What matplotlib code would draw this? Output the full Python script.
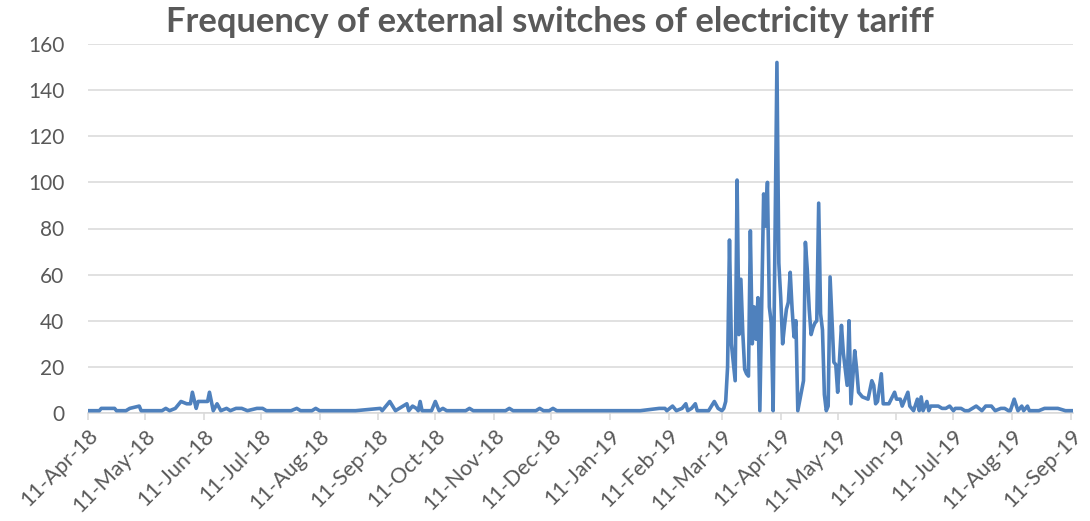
import matplotlib
matplotlib.use("Agg")
import matplotlib.pyplot as plt
import matplotlib.dates as mdates
import pandas as pd

# ---- data ----
dates_2018 = ["2018-04-11", "2018-04-17", "2018-04-18", "2018-04-25", "2018-04-26",
              "2018-05-01", "2018-05-03", "2018-05-08", "2018-05-09", "2018-05-20",
              "2018-05-22", "2018-05-24", "2018-05-27", "2018-05-30", "2018-06-02",
              "2018-06-04", "2018-06-05", "2018-06-07", "2018-06-08", "2018-06-13",
              "2018-06-14", "2018-06-16", "2018-06-18", "2018-06-20", "2018-06-23",
              "2018-06-25", "2018-06-28", "2018-07-01", "2018-07-04", "2018-07-09",
              "2018-07-12", "2018-07-14", "2018-07-27", "2018-07-30", "2018-08-01",
              "2018-08-07", "2018-08-09", "2018-08-11", "2018-08-30", "2018-09-12",
              "2018-09-13", "2018-09-17", "2018-09-20", "2018-09-24", "2018-09-26",
              "2018-09-27", "2018-09-29", "2018-10-01", "2018-10-02", "2018-10-03",
              "2018-10-04", "2018-10-09", "2018-10-11", "2018-10-13", "2018-10-15",
              "2018-10-17", "2018-10-27", "2018-10-29", "2018-10-31", "2018-11-17",
              "2018-11-19", "2018-11-21", "2018-12-03", "2018-12-05", "2018-12-07",
              "2018-12-10", "2018-12-12", "2018-12-14"]
counts_2018 = [1, 1, 2, 2, 1,
               1, 2, 3, 1, 1,
               2, 1, 2, 5, 4,
               4, 9, 2, 5, 5,
               9, 1, 4, 1, 2,
               1, 2, 2, 1, 2,
               2, 1, 1, 2, 1,
               1, 2, 1, 1, 2,
               1, 5, 1, 3, 4,
               1, 3, 2, 1, 5,
               1, 1, 5, 1, 2,
               1, 1, 2, 1, 1,
               2, 1, 1, 2, 1,
               1, 2, 1]

dates_early_2019 = ["2019-01-27", "2019-02-06", "2019-02-09", "2019-02-10", "2019-02-13",
                    "2019-02-15", "2019-02-18", "2019-02-20", "2019-02-21", "2019-02-23",
                    "2019-02-25", "2019-02-26", "2019-03-04", "2019-03-07", "2019-03-09",
                    "2019-03-11", "2019-03-12", "2019-03-13", "2019-03-14"]
counts_early_2019 = [1, 2, 2, 1, 3,
                     1, 2, 4, 1, 2,
                     4, 1, 1, 5, 2,
                     1, 2, 5, 20]

dates_peak_2019 = ["2019-03-15", "2019-03-16", "2019-03-17", "2019-03-18", "2019-03-19",
                   "2019-03-20", "2019-03-21", "2019-03-22", "2019-03-23", "2019-03-24",
                   "2019-03-25", "2019-03-26", "2019-03-27", "2019-03-28", "2019-03-29",
                   "2019-03-30", "2019-03-31", "2019-04-02", "2019-04-03", "2019-04-04",
                   "2019-04-05", "2019-04-06", "2019-04-07", "2019-04-09", "2019-04-10",
                   "2019-04-11", "2019-04-12", "2019-04-13", "2019-04-14", "2019-04-15",
                   "2019-04-16", "2019-04-17", "2019-04-18", "2019-04-19", "2019-04-20",
                   "2019-04-23", "2019-04-24", "2019-04-25", "2019-04-26", "2019-04-27",
                   "2019-04-28", "2019-04-29", "2019-04-30", "2019-05-01", "2019-05-02",
                   "2019-05-03", "2019-05-04", "2019-05-05", "2019-05-06", "2019-05-07",
                   "2019-05-09", "2019-05-10", "2019-05-11", "2019-05-13", "2019-05-14",
                   "2019-05-16", "2019-05-17", "2019-05-18", "2019-05-20", "2019-05-21",
                   "2019-05-22", "2019-05-24", "2019-05-27", "2019-05-29", "2019-05-30",
                   "2019-05-31", "2019-06-01", "2019-06-03", "2019-06-04", "2019-06-07",
                   "2019-06-10", "2019-06-11"]
counts_peak_2019 = [75, 30, 22, 14, 101,
                    34, 58, 35, 19, 17,
                    16, 79, 30, 46, 32,
                    50, 1, 95, 81, 100,
                    46, 39, 1, 152, 65,
                    50, 30, 38, 45, 48,
                    61, 45, 33, 40, 1,
                    14, 74, 62, 45, 34,
                    37, 39, 40, 91, 43,
                    36, 8, 1, 3, 59,
                    22, 21, 9, 38, 26,
                    12, 40, 4, 27, 19,
                    9, 7, 6, 14, 12,
                    4, 5, 17, 4, 4,
                    9, 6]

dates_late_2019 = ["2019-06-13", "2019-06-14", "2019-06-17", "2019-06-18", "2019-06-20",
                   "2019-06-22", "2019-06-23", "2019-06-24", "2019-06-25", "2019-06-27",
                   "2019-06-28", "2019-06-29", "2019-07-03", "2019-07-05", "2019-07-07",
                   "2019-07-09", "2019-07-11", "2019-07-12", "2019-07-15", "2019-07-17",
                   "2019-07-19", "2019-07-23", "2019-07-26", "2019-07-28", "2019-07-31",
                   "2019-08-02", "2019-08-05", "2019-08-07", "2019-08-09", "2019-08-10",
                   "2019-08-12", "2019-08-14", "2019-08-16", "2019-08-17", "2019-08-19",
                   "2019-08-20", "2019-08-23", "2019-08-25", "2019-08-28", "2019-09-04",
                   "2019-09-08", "2019-09-12"]
counts_late_2019 = [6, 3, 9, 3, 1,
                    6, 1, 7, 1, 5,
                    1, 3, 3, 2, 2,
                    3, 1, 2, 2, 1,
                    1, 3, 1, 3, 3,
                    1, 2, 2, 1, 1,
                    6, 1, 3, 1, 3,
                    1, 1, 1, 2, 2,
                    1, 1]

tick_dates = pd.date_range("2018-04-01", "2019-09-01", freq="MS") + pd.Timedelta(days=10)

dates = pd.to_datetime(dates_2018 + dates_early_2019 + dates_peak_2019 + dates_late_2019)
counts = counts_2018 + counts_early_2019 + counts_peak_2019 + counts_late_2019

title = "Frequency of external switches of electricity tariff"

# ---- drawing ----
plt.rcParams['font.family'] = ['Lato', 'DejaVu Sans']
txt = '#595959'
grid = '#d9d9d9'

fig = plt.figure(figsize=(10.9, 5.21), dpi=100)
ax = fig.add_axes([88/1090, (521-413)/521, (1073-88)/1090, (413-44)/521])

ax.plot(dates, counts, color='#4f81bd', lw=2.6, solid_joinstyle='round', solid_capstyle='round', zorder=3)

ax.set_ylim(0, 160)
ax.set_yticks(range(0, 161, 20))
ax.set_xlim(dates[0], dates[-1])
ax.set_xticks(tick_dates)
ax.xaxis.set_major_formatter(mdates.DateFormatter('%d-%b-%y'))

ax.grid(axis='y', color=grid, lw=1.1, zorder=0)
for s in ['top', 'right', 'left']:
    ax.spines[s].set_visible(False)
ax.spines['bottom'].set_color(grid)
ax.spines['bottom'].set_linewidth(1.1)

ax.tick_params(axis='y', length=0, pad=17, labelsize=15, labelcolor=txt)
ax.tick_params(axis='x', length=5, width=1.1, color=grid, direction='out', pad=4,
               labelsize=15.5, labelcolor=txt)
for lab in ax.get_xticklabels():
    lab.set_rotation(45)
    lab.set_ha('right')
    lab.set_rotation_mode('anchor')

fig.text(0.5046, 0.957, title, ha='center', va='center', fontsize=24.8,
         fontweight='bold', color=txt)

fig.savefig('out.png', dpi=100)
